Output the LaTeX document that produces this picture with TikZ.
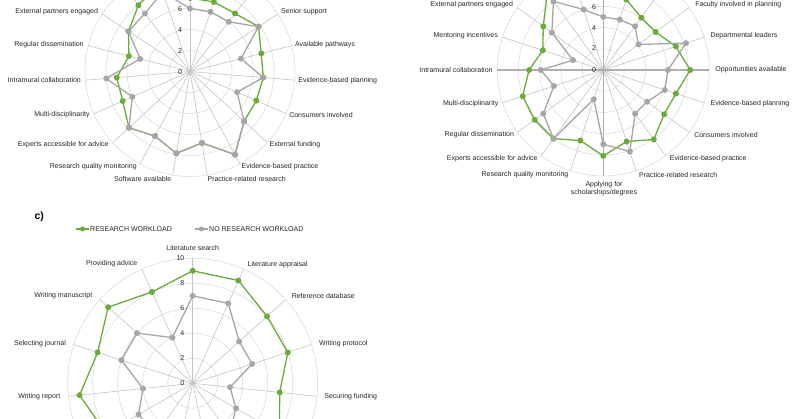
\documentclass[tikz,border=0pt]{standalone}
\usepackage{fontspec}
\usetikzlibrary{calc}
\setmainfont{Liberation Sans}
\definecolor{gr}{HTML}{6AAB3C}
\definecolor{gy}{HTML}{A6A6A6}
\definecolor{ring}{HTML}{DDDDDD}
\definecolor{spoke}{HTML}{C4C4C4}
\newcommand\rdrgrid[4]{% cx cy N unit
  \foreach \r in {2,4,...,10} \draw[ring,line width=0.6pt] (#1,#2) circle ({\r*#4});
  \pgfmathtruncatemacro\nm{#3-1}
  \foreach \k in {0,...,\nm} \draw[spoke,line width=0.6pt] (#1,#2) -- ({#1+10*#4*sin(360*\k/#3)},{#2-10*#4*cos(360*\k/#3)});
}
\newcommand\rdrseries[6]{% cx cy N unit colour values
  \foreach \v [count=\i from 0] in {#6}
    \coordinate (p\i) at ({#1+\v*#4*sin(360*\i/#3)},{#2-\v*#4*cos(360*\i/#3)});
  \pgfmathtruncatemacro\nm{#3-1}
  \draw[#5,line width=1.3pt,line join=round] (p0) \foreach \i in {1,...,\nm}{-- (p\i)} -- cycle;
  \foreach \i in {0,...,\nm} \fill[#5] (p\i) circle (3pt);
}
\begin{document}
\begin{tikzpicture}[x=1pt,y=-1pt,
  lab/.style={font=\fontsize{7}{8.4}\selectfont,text=black!85,inner sep=0pt,align=center},
  tick/.style={font=\fontsize{7}{8.4}\selectfont,text=black!85,inner sep=0pt}]
\useasboundingbox (0,0) rectangle (800,419);
\clip (0,0) rectangle (800,419);
\fill[white] (0,0) rectangle (800,419);
% ---- chart a
\rdrgrid{190}{71.5}{19}{10.5}
\rdrseries{190}{71.5}{19}{10.5}{gr}{7,7,7,7.8,7,7,6.9,7,9,6.9,7.9,7,7.9,7,7,6,7,8,9}
\rdrseries{190}{71.5}{19}{10.5}{gy}{6,6,6,7.8,5,7,4.9,7,9,6.9,7.9,7,7.9,6,8,4.9,7,7,8}
\foreach \t/\y in {0/72,2/51,4/30,6/9} \node[tick] at (180,\y) {\t};
\node[lab] (a1) at (56.7,12) {External partners engaged};
\node[lab] (a2) at (49,44.7) {Regular dissemination};
\node[lab] (a3) at (44.3,80.3) {Intramural collaboration};
\node[lab] (a4) at (62,115) {Multi-disciplinarity};
\node[lab] (a5) at (63.3,145) {Experts accessible for advice};
\node[lab] (a6) at (93.3,166.7) {Research quality monitoring};
\node[lab] (a7) at (142.7,178.7) {Software available};
\node[lab] (a8) at (246.7,178.7) {Practice-related research};
\node[lab] (a9) at (280,166.7) {Evidence-based practice};
\node[lab] (a10) at (295,145) {External funding};
\node[lab] (a11) at (321,115) {Consumers involved};
\node[lab] (a12) at (337.7,80.3) {Evidence-based planning};
\node[lab] (a13) at (325,44.7) {Available pathways};
\node[lab] (a14) at (304,12) {Senior support};
% ---- chart b
\rdrgrid{603.3}{70}{20}{10.6}
\draw[spoke!90!black,line width=1.1pt] (603.3,-40) -- (603.3,176) (497.3,70) -- (709.3,70);
\rdrseries{603.3}{70}{20}{10.6}{gr}{9,7,6.1,6.1,7.2,8.2,7.2,7.1,8.1,7.1,8.1,7,8,8,8,7,6,7,9,9}
\rdrseries{603.3}{70}{20}{10.6}{gy}{5,5,5.1,4.1,8.2,6.1,6.1,5.1,5.1,8.1,7,2.9,8,7,4.9,5.9,3,6,8,6}
\foreach \t/\y in {0/70,2/48.3,4/27.7,6/6.7} \node[tick] at (594,\y) {\t};
\node[lab] (b1) at (471.7,5) {External partners engaged};
\node[lab] (b2) at (465.7,36) {Mentoring incentives};
\node[lab] (b3) at (456,70) {Intramural collaboration};
\node[lab] (b4) at (470.7,104) {Multi-disciplinarity};
\node[lab] (b5) at (479.3,135) {Regular dissemination};
\node[lab] (b6) at (492.3,159) {Experts accessible for advice};
\node[lab] (b7) at (525,175) {Research quality monitoring};
\node[lab] (b8) at (604,188.5) {Applying for\\scholarships/degrees};
\node[lab] (b9) at (678.3,175) {Practice-related research};
\node[lab] (b10) at (708.3,159) {Evidence-based practice};
\node[lab] (b11) at (726,135) {Consumers involved};
\node[lab] (b12) at (750,104) {Evidence-based planning};
\node[lab] (b13) at (751,70) {Opportunities available};
\node[lab] (b14) at (744,36) {Departmental leaders};
\node[lab] (b15) at (738.3,5) {Faculty involved in planning};
% ---- chart c
\node[font=\fontsize{10.5}{12}\selectfont\bfseries,inner sep=0pt] (c) at (39.3,216.7) {c)};
\coordinate (l1a) at (76,229); \coordinate (l1b) at (89,229);
\draw[gr,line width=1.3pt] (l1a) -- (l1b); \fill[gr] ($(l1a)!0.5!(l1b)$) circle (2.5pt);
\node[lab,anchor=west] (lg1) at (90,229) {RESEARCH WORKLOAD};
\coordinate (l2a) at (195,229); \coordinate (l2b) at (208,229);
\draw[gy,line width=1.3pt] (l2a) -- (l2b); \fill[gy] ($(l2a)!0.5!(l2b)$) circle (2.5pt);
\node[lab,anchor=west] (lg2) at (209,229) {NO RESEARCH WORKLOAD};
\rdrgrid{192.7}{383.3}{15}{12.5}
\rdrseries{192.7}{383.3}{15}{12.5}{gr}{9,9,8,8,7,8,8,8,8,8,8,9.1,8,9.1,8}
\rdrseries{192.7}{383.3}{15}{12.5}{gy}{7,7,5,5,3,4,5,5,5,5,5,4,6,6,4}
\foreach \t/\y in {0/383.3,2/358.3,4/333.3,6/308.3,8/283.3,10/258.3} \node[tick,anchor=east] at (184.5,\y) {\t};
\node[lab] (c1) at (192.7,247.7) {Literature search};
\node[lab] (c2) at (277.7,265) {Literature appraisal};
\node[lab] (c3) at (323.3,296) {Reference database};
\node[lab] (c4) at (343.3,343.3) {Writing protocol};
\node[lab] (c5) at (350.7,396.7) {Securing funding};
\node[lab] (c6) at (111.7,264) {Providing advice};
\node[lab] (c7) at (63.3,296) {Writing manuscript};
\node[lab] (c8) at (40,343.3) {Selecting journal};
\node[lab] (c9) at (39.3,396.7) {Writing report};
\end{tikzpicture}
\end{document}
